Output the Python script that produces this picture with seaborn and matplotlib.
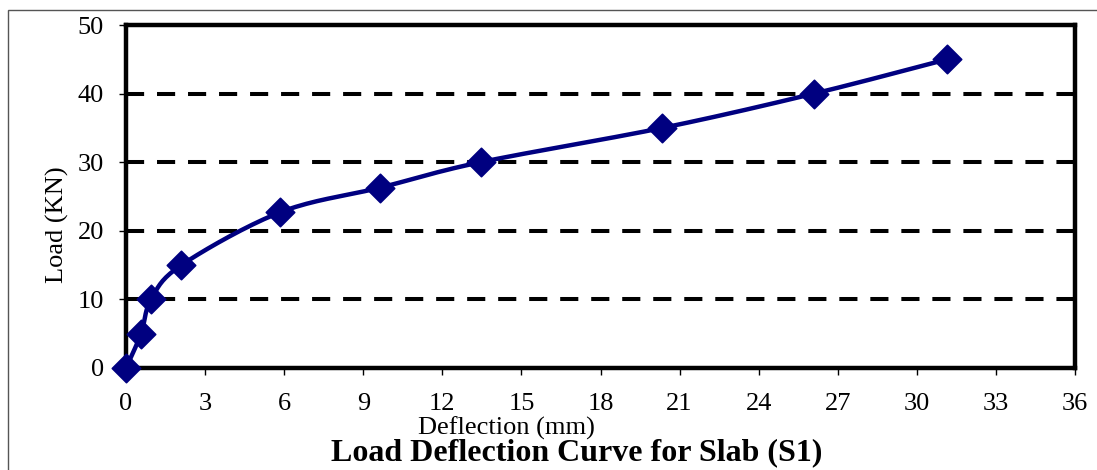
import numpy as np
import pandas as pd
import seaborn as sns
import matplotlib
matplotlib.use("Agg")
import matplotlib.pyplot as plt
from matplotlib.patches import Rectangle

# values
deflection = [0.0, 0.57, 0.95, 2.1, 5.85, 9.65, 13.45, 20.35, 26.1, 31.15]
load = [0, 5, 10, 15, 22.7, 26.3, 30, 35, 40, 45]
x_ticks = list(range(0, 37, 3))
y_ticks = [0, 10, 20, 30, 40, 50]

df = pd.DataFrame({"Deflection": deflection, "Load": load})


def smooth(x, y, n=20):
    # Catmull-Rom style path through the points, like Excel's smoothed line
    x = np.asarray(x, float)
    y = np.asarray(y, float)
    px = np.concatenate([[x[0]], x, [x[-1]]])
    py = np.concatenate([[y[0]], y, [y[-1]]])
    xs, ys = [], []
    for i in range(1, len(px) - 2):
        t = np.linspace(0, 1, n)
        for arr, out in ((px, xs), (py, ys)):
            p0, p1, p2, p3 = arr[i - 1], arr[i], arr[i + 1], arr[i + 2]
            c1 = p1 + (p2 - p0) / 6
            c2 = p2 - (p3 - p1) / 6
            out.extend((1 - t) ** 3 * p1 + 3 * (1 - t) ** 2 * t * c1
                       + 3 * (1 - t) * t ** 2 * c2 + t ** 3 * p2)
    return np.array(xs), np.array(ys)


sns.set_style("white")
plt.rcParams["font.family"] = ["Liberation Serif", "DejaVu Serif"]
plt.rcParams["text.color"] = "black"
plt.rcParams["xtick.color"] = "black"
plt.rcParams["ytick.color"] = "black"

fig = plt.figure(figsize=(10.97, 4.70), dpi=100)
ax = fig.add_axes([126 / 1097, 1 - 368 / 470, (1075 - 126) / 1097, (368 - 25) / 470])

sx, sy = smooth(deflection, load)
ax.plot(sx, sy, color="#000080", lw=3.2, clip_on=False, zorder=3)
sns.scatterplot(data=df, x="Deflection", y="Load", marker="D", s=210,
                color="#000080", edgecolor="#000080", ax=ax, clip_on=False, zorder=4)

for yv in y_ticks[1:-1]:
    ax.axhline(yv, color="black", lw=2.9, linestyle=(0, (4.5, 3.2)), zorder=1)

ax.set_xlim(0, 36)
ax.set_ylim(0, 50)
ax.set_xticks(x_ticks)
ax.set_yticks(y_ticks)
ax.tick_params(axis="both", labelsize=19, direction="out", length=5, width=1,
               colors="black", bottom=True, left=True)
ax.tick_params(axis="x", pad=13)
ax.tick_params(axis="y", pad=11)
for s in ax.spines.values():
    s.set_linewidth(3.2)
    s.set_color("black")
ax.set_xlabel("")
ax.set_ylabel("")

fig.text(506 / 1097, 1 - 428 / 470, "Deflection (mm)", ha="center", va="center", fontsize=19)
fig.text(57 / 1097, 1 - 225 / 470, "Load (KN)", ha="center", va="center",
         rotation=90, fontsize=19)
fig.text(577 / 1097, 1 - 453 / 470, "Load Deflection Curve for Slab (S1)",
         ha="center", va="center", fontsize=23, fontweight="bold")

fig.patches.append(Rectangle((8 / 1097, -0.1), 1.2, 1.1 - 10 / 470,
                             transform=fig.transFigure, fill=False,
                             edgecolor="#555555", lw=1))

fig.savefig("out.png", dpi=100)
